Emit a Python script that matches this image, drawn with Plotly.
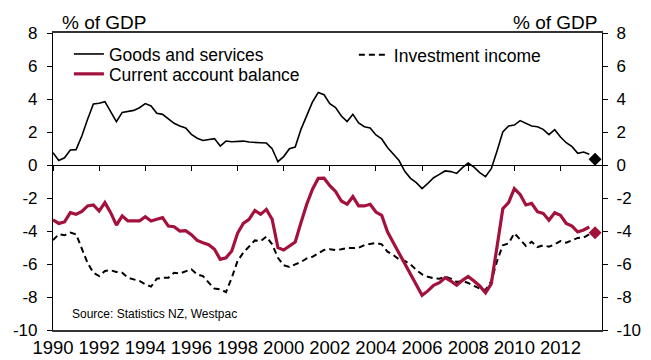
import pandas as pd
import plotly.graph_objects as go

# Quarterly series, % of GDP, 1990Q1 - 2013Q2
quarters = pd.period_range("1990Q1", "2013Q2", freq="Q")

goods_services = [
    0.75, 0.28, 0.44, 0.91, 0.93, 1.76, 2.77, 3.70,
    3.74, 3.84, 3.23, 2.63, 3.19, 3.25, 3.31, 3.47,
    3.72, 3.58, 3.13, 3.07, 2.77, 2.53, 2.36, 2.24,
    1.86, 1.62, 1.49, 1.54, 1.60, 1.15, 1.45, 1.41,
    1.41, 1.45, 1.39, 1.35, 1.35, 1.33, 0.99, 0.20,
    0.51, 0.99, 1.09, 2.16, 3.01, 3.82, 4.40, 4.26,
    3.72, 3.48, 2.97, 2.63, 3.07, 2.55, 2.32, 2.24,
    1.82, 1.58, 1.06, 0.69, 0.27, -0.38, -0.81, -1.07,
    -1.43, -1.11, -0.77, -0.57, -0.36, -0.40, -0.51, -0.16,
    0.12, -0.13, -0.46, -0.71, -0.22, 0.85, 2.00, 2.36,
    2.42, 2.69, 2.53, 2.36, 2.32, 2.16, 1.84, 2.14,
    1.70, 1.35, 1.11, 0.71, 0.79, 0.65,
]

current_account = [
    -3.33, -3.54, -3.45, -2.89, -2.99, -2.81, -2.48, -2.42,
    -2.79, -2.28, -2.89, -3.64, -3.09, -3.39, -3.39, -3.39,
    -3.13, -3.39, -3.29, -3.19, -3.70, -3.74, -4.00, -3.98,
    -4.22, -4.57, -4.71, -4.83, -5.11, -5.72, -5.62, -5.21,
    -4.14, -3.54, -3.29, -2.75, -2.99, -2.69, -3.29, -5.01,
    -5.15, -4.91, -4.67, -3.49, -2.38, -1.47, -0.81, -0.80,
    -1.25, -1.60, -2.18, -2.38, -1.92, -2.48, -2.48, -2.38,
    -2.85, -3.05, -4.05, -4.70, -5.35, -6.00, -6.65, -7.30,
    -7.90, -7.63, -7.29, -7.13, -6.83, -7.03, -7.29, -6.99,
    -6.75, -7.03, -7.33, -7.74, -7.20, -4.95, -2.65, -2.28,
    -1.43, -1.78, -2.42, -2.32, -2.83, -2.93, -3.35, -2.89,
    -3.05, -3.54, -3.70, -4.06, -3.94, -3.76,
]

investment_income = [
    -4.55, -4.20, -4.26, -4.10, -4.20, -5.11, -5.94, -6.53,
    -6.73, -6.42, -6.38, -6.48, -6.53, -6.83, -6.93, -7.03,
    -7.23, -7.37, -6.89, -6.83, -6.83, -6.53, -6.57, -6.45,
    -6.32, -6.63, -6.73, -7.13, -7.49, -7.54, -7.70, -6.83,
    -5.82, -5.31, -4.91, -4.57, -4.61, -4.34, -4.81, -5.62,
    -6.08, -6.18, -6.02, -5.88, -5.66, -5.56, -5.35, -5.15,
    -5.10, -5.16, -5.11, -5.03, -5.03, -5.01, -4.85, -4.77,
    -4.73, -4.81, -5.25, -5.45, -5.72, -5.82, -6.02, -6.36,
    -6.63, -6.77, -6.87, -6.89, -6.77, -6.89, -7.09, -7.03,
    -7.15, -7.33, -7.49, -7.58, -7.03, -5.82, -4.87, -4.75,
    -4.14, -4.51, -4.91, -4.65, -4.97, -4.87, -4.95, -4.81,
    -4.61, -4.71, -4.55, -4.42, -4.40, -4.20,
]

# Next-quarter estimate shown as diamonds
forecast_quarter = pd.Period("2013Q3", freq="Q")
forecast_goods = 0.35
forecast_current_account = -4.1

year_ticks = list(range(1990, 2013, 2))
year_labels = [str(y) for y in year_ticks]
value_ticks = [-10, -8, -6, -4, -2, 0, 2, 4, 6, 8]
value_labels = ["-10", "-8", "-6", "-4", "-2", "0", "2", "4", "6", "8"]


def to_year(p):
    return p.year + (p.quarter - 1) / 4


x = [to_year(q) for q in quarters]
x_fc = to_year(forecast_quarter)

RED = "#A3113C"
FONT = "Liberation Sans, Arial, sans-serif"
X_RANGE = [1990, 2013.8]
Y_RANGE = [-10, 8]

fig = go.Figure()

fig.add_trace(go.Scatter(
    x=x, y=investment_income, mode="lines", name="Investment income",
    line=dict(color="black", width=2, dash="6px,4px"), legend="legend3",
))
fig.add_trace(go.Scatter(
    x=x, y=goods_services, mode="lines", name="Goods and services",
    line=dict(color="black", width=1.6), legend="legend",
))
fig.add_trace(go.Scatter(
    x=x, y=current_account, mode="lines", name="Current account balance",
    line=dict(color=RED, width=3.2), legend="legend2",
))
fig.add_trace(go.Scatter(
    x=[x_fc, x_fc], y=[forecast_goods, forecast_current_account],
    mode="markers", showlegend=False, xaxis="x2", yaxis="y2",
    marker=dict(symbol="diamond", size=10, color=["black", RED],
                line=dict(width=0)),
))

axis_common = dict(showgrid=False, zeroline=False, color="black",
                   automargin=False)
legend_common = dict(xanchor="left", yanchor="middle",
                     bgcolor="rgba(0,0,0,0)",
                     font=dict(size=17.5, family=FONT), itemwidth=30)

fig.update_layout(
    width=651, height=360,
    margin=dict(l=53, r=49, t=33, b=30),
    paper_bgcolor="white", plot_bgcolor="white",
    font=dict(family=FONT, color="black"),
    xaxis=dict(
        **axis_common, range=X_RANGE, tickvals=year_ticks, ticktext=year_labels,
        ticks="", showline=True, linecolor="#333333", linewidth=1.5,
        mirror=True, tickfont=dict(size=18.5, family=FONT),
    ),
    xaxis2=dict(
        **axis_common, range=X_RANGE, overlaying="x", anchor="free",
        position=10 / 18, tickvals=year_ticks, ticks="outside", ticklen=5,
        tickwidth=1.2, tickcolor="black", showticklabels=False,
        showline=True, linecolor="black", linewidth=1.2,
    ),
    yaxis=dict(
        **axis_common, range=Y_RANGE, tickvals=value_ticks, ticktext=value_labels,
        ticks="outside", ticklen=5, tickwidth=1.2, tickcolor="black",
        showline=True, linecolor="black", linewidth=1.2,
        tickfont=dict(size=17, family=FONT), ticklabelstandoff=6,
    ),
    yaxis2=dict(
        **axis_common, range=Y_RANGE, tickvals=value_ticks, ticktext=value_labels,
        overlaying="y", side="right", anchor="x",
        ticks="outside", ticklen=5, tickwidth=1.2, tickcolor="black",
        showline=True, linecolor="black", linewidth=1.2,
        tickfont=dict(size=17, family=FONT), ticklabelstandoff=5,
    ),
    legend=dict(**legend_common, x=0.029, y=0.929),
    legend2=dict(**legend_common, x=0.029, y=0.862),
    legend3=dict(**legend_common, x=0.548, y=0.926),
    annotations=[
        dict(text="% of GDP", xref="paper", yref="paper", x=0.0128, y=1.037,
             xanchor="left", yanchor="middle", showarrow=False,
             font=dict(size=19, family=FONT)),
        dict(text="% of GDP", xref="paper", yref="paper", x=0.9945, y=1.037,
             xanchor="right", yanchor="middle", showarrow=False,
             font=dict(size=19, family=FONT)),
        dict(text="Source: Statistics NZ, Westpac", xref="paper", yref="paper",
             x=0.031, y=0.054, xanchor="left", yanchor="middle",
             showarrow=False, font=dict(size=12, family=FONT)),
    ],
)

fig.write_html("out.html")
